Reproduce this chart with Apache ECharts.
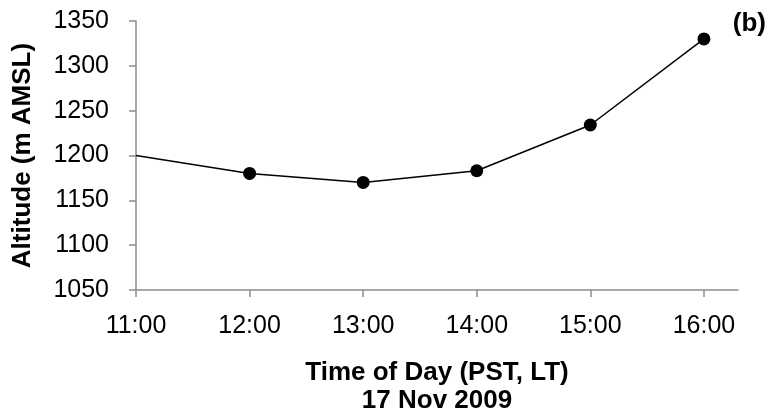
<!DOCTYPE html>
<html>
<head>
<meta charset="utf-8">
<script src="https://cdn.jsdelivr.net/npm/echarts@6/dist/echarts.min.js"></script>
<style>
  html, body { margin: 0; padding: 0; background: #fff; }
  #chart { width: 770px; height: 416px; }
</style>
</head>
<body>
<div id="chart"></div>
<script>
// Flight altitude through the afternoon, 17 Nov 2009
const hours = [11, 12, 13, 14, 15, 16];
const altitudes = [1200, 1180, 1170, 1183, 1234, 1330];
const hourLabels = ['11:00', '12:00', '13:00', '14:00', '15:00', '16:00'];
const altitudeTicks = [1050, 1100, 1150, 1200, 1250, 1300, 1350];

const FONT = "'Liberation Sans', Arial, sans-serif";
const AXIS_GREY = '#8c8c8c';

// the first sample is drawn as the line's start only, without a marker
const points = hours.map((h, i) => {
  const item = { value: [h, altitudes[i]] };
  if (i === 0) item.symbol = 'none';
  return item;
});

const chart = echarts.init(document.getElementById('chart'), null, { renderer: 'canvas' });
chart.setOption({
  animation: false,
  backgroundColor: '#fff',
  title: {
    text: '(b)',
    right: -1,
    top: 6,
    textStyle: { fontFamily: FONT, fontSize: 26, fontWeight: 'bold', color: '#000' }
  },
  grid: { left: 136, right: 32, top: 21, bottom: 126, containLabel: false, outerBoundsMode: 'none' },
  xAxis: {
    type: 'value',
    min: 11,
    max: 16.3,
    name: 'Time of Day (PST, LT)\n17 Nov 2009',
    nameLocation: 'middle',
    nameGap: 69,
    nameTextStyle: { fontFamily: FONT, fontSize: 26, fontWeight: 'bold', color: '#000', lineHeight: 28 },
    axisLine: { show: true, lineStyle: { color: AXIS_GREY, width: 1.5 } },
    axisTick: { show: true, inside: false, length: 7, customValues: hours, lineStyle: { color: AXIS_GREY, width: 1.5 } },
    axisLabel: {
      customValues: hours,
      formatter: (v) => hourLabels[hours.indexOf(v)] || '',
      margin: 24,
      fontFamily: FONT,
      fontSize: 25,
      color: '#000'
    },
    splitLine: { show: false }
  },
  yAxis: {
    type: 'value',
    min: altitudeTicks[0],
    max: altitudeTicks[altitudeTicks.length - 1],
    interval: 50,
    name: 'Altitude (m AMSL)',
    nameLocation: 'middle',
    nameGap: 100,
    nameTextStyle: { fontFamily: FONT, fontSize: 26, fontWeight: 'bold', color: '#000' },
    axisLine: { show: true, lineStyle: { color: AXIS_GREY, width: 1.5 } },
    axisTick: { show: true, inside: false, length: 7, lineStyle: { color: AXIS_GREY, width: 1.5 } },
    axisLabel: {
      margin: 27,
      fontFamily: FONT,
      fontSize: 25,
      color: '#000',
      formatter: (v) => String(v)
    },
    splitLine: { show: false }
  },
  series: [{
    type: 'line',
    data: points,
    symbol: 'circle',
    symbolSize: 13,
    showSymbol: true,
    clip: false,
    lineStyle: { color: '#000', width: 1.5 },
    itemStyle: { color: '#000' }
  }]
});
</script>
</body>
</html>
